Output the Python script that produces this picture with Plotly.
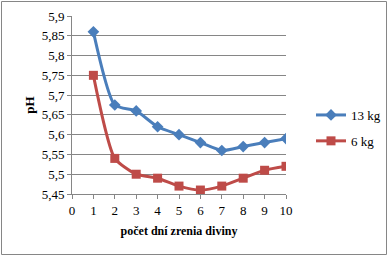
import plotly.graph_objects as go

days = [1, 2, 3, 4, 5, 6, 7, 8, 9, 10]
ph_13kg = [5.86, 5.675, 5.66, 5.62, 5.60, 5.58, 5.56, 5.57, 5.58, 5.59]
ph_6kg = [5.75, 5.54, 5.50, 5.49, 5.47, 5.46, 5.47, 5.49, 5.51, 5.52]
y_ticks = [5.45, 5.5, 5.55, 5.6, 5.65, 5.7, 5.75, 5.8, 5.85, 5.9]
y_labels = ["5,45", "5,5", "5,55", "5,6", "5,65", "5,7", "5,75", "5,8", "5,85", "5,9"]
x_ticks = [0, 1, 2, 3, 4, 5, 6, 7, 8, 9, 10]

W, H = 389, 257
ml, mr, mt, mb = 72, 103, 16, 63
pw, ph = W - ml - mr, H - mt - mb

FONT = "Times New Roman"

fig = go.Figure()
fig.add_trace(go.Scatter(x=days, y=ph_13kg, name="13 kg", mode="lines+markers", legendgroup="a",
                         line=dict(color="#4A7EBB", width=3, shape="spline", smoothing=0.6),
                         marker=dict(symbol="diamond", size=9, color="#4A7EBB")))
fig.add_trace(go.Scatter(x=days, y=ph_6kg, name="6 kg", mode="lines+markers", legendgroup="b",
                         line=dict(color="#BE4B48", width=3, shape="spline", smoothing=0.6),
                         marker=dict(symbol="square", size=9, color="#BE4B48")))

fig.update_layout(
    width=W, height=H,
    margin=dict(l=ml, r=mr, t=mt, b=mb, autoexpand=False),
    paper_bgcolor="white", plot_bgcolor="white",
    font=dict(family=FONT, size=13, color="black"),
    showlegend=True,
    legend=dict(x=(311 - ml) / pw, y=(194 - 128) / ph, xanchor="left", yanchor="middle",
                font=dict(family=FONT, size=13), itemwidth=30, tracegroupgap=6,
                bgcolor="rgba(0,0,0,0)"),
    xaxis=dict(range=[0, 10], tickvals=x_ticks, showgrid=False, showline=True,
               linecolor="#868686", linewidth=1, ticks="outside", ticklen=4, tickcolor="#868686",
               zeroline=False, tickfont=dict(family=FONT, size=13),
               title=dict(text="<b>počet dní zrenia diviny</b>",
                          font=dict(family=FONT, size=12), standoff=10)),
    yaxis=dict(range=[5.45, 5.9], tickvals=y_ticks, ticktext=y_labels, showgrid=True,
               gridcolor="#868686", gridwidth=1, showline=True, linecolor="#868686", linewidth=1,
               ticks="outside", ticklen=4, tickcolor="#868686", zeroline=False,
               tickfont=dict(family=FONT, size=13),
               title=dict(text="<b>pH</b>", font=dict(family=FONT, size=13), standoff=4)),
    shapes=[dict(type="rect", xref="paper", yref="paper",
                 x0=(1.5 - ml) / pw, x1=(W - 2.5 - ml) / pw,
                 y0=-(H - 2.5 - mt - ph) / ph, y1=1 + (mt - 1.5) / ph,
                 line=dict(color="#868686", width=1))],
)
fig.write_html("out.html")
